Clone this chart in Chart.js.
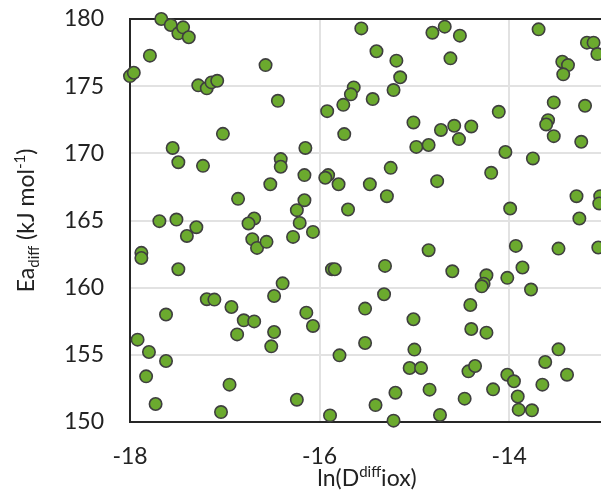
<!DOCTYPE html>
<html>
<head>
<meta charset="utf-8">
<script src="https://cdn.jsdelivr.net/npm/chart.js@4.4.1/dist/chart.umd.min.js"></script>
<style>
  html, body { margin: 0; padding: 0; background: #fff; overflow: hidden; }
  canvas { display: block; }
</style>
</head>
<body>
<canvas id="scatterChart" width="612" height="499"></canvas>
<script>
// ln(D diff iox) values
const xVals = [
  -17.67, -17.57, -17.49, -17.44, -17.38, -17.79, -18.00, -17.96, -16.57, -17.28,
  -17.19, -17.14, -17.08, -16.44, -17.02, -17.55, -15.56, -14.81, -15.40, -15.19,
  -15.15, -15.64, -15.67, -15.75, -15.44, -15.22, -15.92, -15.01, -14.72, -15.74,
  -16.15, -14.98, -14.85, -14.68, -14.52, -14.62, -13.69, -13.18, -13.11, -13.07,
  -13.44, -13.38, -13.43, -13.53, -13.20, -13.59, -13.61, -13.53, -13.24, -14.11,
  -14.58, -14.40, -14.53, -14.04, -17.49, -17.23, -16.41, -16.41, -16.52, -16.86,
  -17.69, -17.51, -17.30, -17.40, -16.69, -16.75, -16.71, -16.66, -16.56, -17.88,
  -17.88, -17.49, -16.39, -16.16, -15.91, -15.94, -15.80, -15.47, -15.25, -15.29,
  -14.76, -16.16, -16.24, -15.70, -16.21, -16.07, -16.28, -14.85, -15.87, -15.84,
  -15.31, -13.75, -14.19, -13.29, -13.04, -13.05, -13.99, -13.26, -13.93, -13.48,
  -13.06, -14.60, -14.24, -14.27, -14.02, -13.86, -13.77, -17.19, -17.11, -16.93,
  -16.80, -16.69, -16.87, -17.62, -17.92, -17.80, -17.62, -17.83, -17.73, -16.95,
  -17.04, -16.48, -16.48, -16.51, -16.14, -16.07, -15.32, -15.52, -15.01, -15.52,
  -15.79, -15.00, -15.05, -14.93, -16.24, -15.89, -15.20, -15.41, -15.22, -14.84,
  -14.73, -14.29, -14.41, -14.40, -14.24, -13.48, -13.62, -13.39, -13.65, -14.43,
  -14.36, -14.02, -13.95, -14.17, -13.91, -13.90, -13.76, -14.47
];
// Ea diff values (kJ/mol)
const yVals = [
  180.00, 179.55, 178.93, 179.38, 178.64, 177.27, 175.75, 176.00, 176.57, 175.06,
  174.84, 175.28, 175.40, 173.91, 171.45, 170.40, 179.30, 178.98, 177.60, 176.90,
  175.66, 174.91, 174.39, 173.61, 174.04, 174.71, 173.14, 172.30, 171.74, 171.43,
  170.40, 170.48, 170.62, 179.43, 178.76, 177.07, 179.23, 178.24, 178.24, 177.39,
  176.82, 176.57, 175.88, 173.79, 173.54, 172.47, 172.15, 171.28, 170.86, 173.09,
  172.05, 172.00, 171.06, 170.10, 169.34, 169.07, 169.57, 169.00, 167.70, 166.61,
  164.95, 165.07, 164.50, 163.85, 165.15, 164.78, 163.61, 162.96, 163.41, 162.59,
  162.21, 161.37, 160.32, 168.38, 168.38, 168.18, 167.70, 167.70, 168.92, 166.81,
  167.93, 166.51, 165.77, 165.82, 164.82, 164.15, 163.78, 162.79, 161.37, 161.37,
  161.62, 169.62, 168.55, 166.81, 166.81, 166.27, 165.89, 165.15, 163.11, 162.91,
  162.99, 161.22, 160.92, 160.30, 160.73, 161.50, 159.86, 159.14, 159.11, 158.56,
  157.57, 157.49, 156.52, 158.00, 156.13, 155.21, 154.54, 153.40, 151.34, 152.78,
  150.74, 159.38, 156.70, 155.63, 158.14, 157.15, 159.51, 158.44, 157.65, 155.88,
  154.96, 155.39, 154.02, 154.02, 151.66, 150.49, 152.18, 151.26, 150.10, 152.41,
  150.52, 160.10, 158.71, 156.92, 156.65, 155.41, 154.47, 153.52, 152.78, 153.77,
  154.17, 153.52, 153.03, 152.43, 151.90, 150.92, 150.87, 151.74
];
const xTicks = [-18, -16, -14];
const yTicks = [150, 155, 160, 165, 170, 175, 180];
// axis titles as [text, 'sub' | 'sup' | '']
const xTitle = [['ln(D', ''], ['diff', 'sup'], ['iox)', '']];
const yTitle = [['Ea', ''], ['diff', 'sub'], [' (kJ mol', ''], ['-1', 'sup'], [')', '']];

const fontFamily = 'Lato, "Open Sans", sans-serif';
const textColor = '#222222';
const axisColor = '#262626';

function drawRich(ctx, parts, x, y, size) {
  const sizes = parts.map(p => p[1] ? Math.round(size * 0.64) : size);
  let total = 0;
  parts.forEach((p, i) => {
    ctx.font = sizes[i] + 'px ' + fontFamily;
    total += ctx.measureText(p[0]).width;
  });
  let cx = x - total / 2;
  parts.forEach((p, i) => {
    ctx.font = sizes[i] + 'px ' + fontFamily;
    let dy = 0;
    if (p[1] === 'sub') dy = size * 0.22;
    if (p[1] === 'sup') dy = -size * 0.38;
    ctx.fillText(p[0], cx, y + dy);
    cx += ctx.measureText(p[0]).width;
  });
}

const framePlugin = {
  id: 'frame',
  beforeDatasetsDraw(chart) {
    const { ctx, chartArea: a } = chart;
    ctx.save();
    ctx.strokeStyle = axisColor;
    ctx.lineWidth = 2;
    ctx.beginPath();
    ctx.moveTo(a.left - 1, a.top);
    ctx.lineTo(a.right + 2, a.top);
    ctx.stroke();
    ctx.restore();
  },
  afterDraw(chart) {
    const { ctx, chartArea: a } = chart;
    ctx.save();
    ctx.fillStyle = textColor;
    ctx.textBaseline = 'alphabetic';
    ctx.textAlign = 'left';
    drawRich(ctx, xTitle, (a.left + a.right) / 2, 486, 23);
    ctx.translate(34, (a.top + a.bottom) / 2);
    ctx.rotate(-Math.PI / 2);
    drawRich(ctx, yTitle, 0, 0, 23);
    ctx.restore();
  }
};

function noPad(s) {
  s.paddingTop = 0;
  s.paddingBottom = 0;
  s.paddingLeft = 0;
  s.paddingRight = 0;
}

const ctx = document.getElementById('scatterChart');
new Chart(ctx, {
  type: 'scatter',
  data: {
    datasets: [{
      data: xVals.map((x, i) => ({ x: x, y: yVals[i] })),
      backgroundColor: '#6BAA2E',
      borderColor: '#3f3f3f',
      borderWidth: 1.6,
      pointRadius: 6.2,
      pointHoverRadius: 6.2,
      clip: false
    }]
  },
  options: {
    responsive: false,
    animation: false,
    devicePixelRatio: 1,
    layout: { padding: { top: 19, right: 8, left: 0, bottom: 0 } },
    plugins: {
      legend: { display: false },
      title: { display: false },
      tooltip: { enabled: false }
    },
    scales: {
      x: {
        type: 'linear',
        min: -18,
        max: -13,
        afterBuildTicks: s => { s.ticks = xTicks.map(v => ({ value: v })); },
        afterFit: s => { s.height = 77; noPad(s); },
        grid: { color: '#e2e2e2', lineWidth: 2, drawTicks: false },
        border: { color: axisColor, width: 2 },
        ticks: {
          padding: 21,
          color: textColor,
          font: { family: fontFamily, size: 23 }
        }
      },
      y: {
        type: 'linear',
        min: 150,
        max: 180,
        afterBuildTicks: s => { s.ticks = yTicks.map(v => ({ value: v })); },
        afterFit: s => { s.width = 130; noPad(s); },
        grid: { color: '#e2e2e2', lineWidth: 2, drawTicks: false },
        border: { color: axisColor, width: 2 },
        ticks: {
          padding: 26,
          color: textColor,
          font: { family: fontFamily, size: 23 }
        }
      }
    }
  },
  plugins: [framePlugin]
});
</script>
</body>
</html>
